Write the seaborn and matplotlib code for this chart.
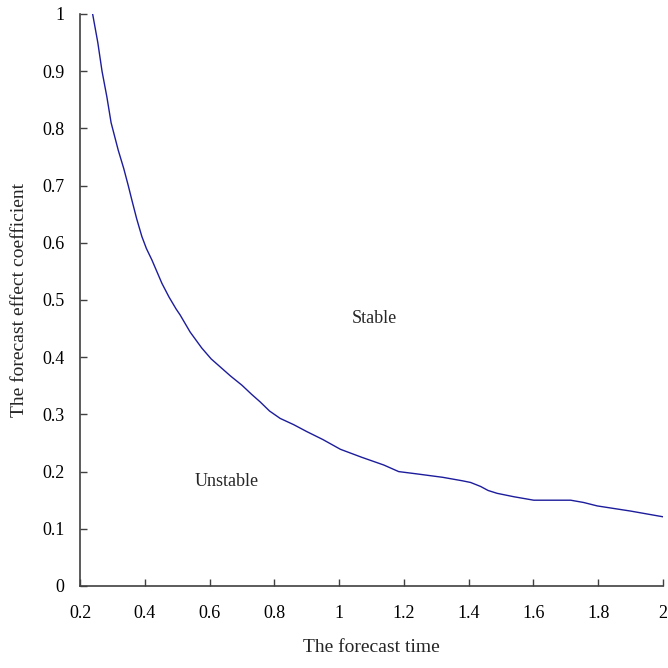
import matplotlib
matplotlib.use("Agg")
import matplotlib.pyplot as plt
import seaborn as sns
import pandas as pd

# Forecast time vs. forecast effect coefficient (stability boundary)
forecast_time = [0.239, 0.255, 0.268, 0.283, 0.296, 0.318, 0.335, 0.349, 0.36,
                 0.375, 0.391, 0.405, 0.422, 0.453, 0.475, 0.497, 0.509, 0.54,
                 0.576, 0.605, 0.633, 0.665, 0.70, 0.73, 0.756, 0.785, 0.818,
                 0.86, 0.90, 0.95, 1.004, 1.07, 1.138, 1.184, 1.24, 1.32,
                 1.38, 1.406, 1.437, 1.46, 1.488, 1.54, 1.601, 1.66, 1.715,
                 1.755, 1.797, 1.90, 2.00]
effect_coef = [1.00, 0.95, 0.90, 0.855, 0.81, 0.762, 0.73, 0.70, 0.675,
               0.642, 0.611, 0.59, 0.57, 0.529, 0.505, 0.484, 0.474, 0.444,
               0.416, 0.397, 0.383, 0.367, 0.351, 0.335, 0.322, 0.306, 0.293,
               0.282, 0.27, 0.256, 0.239, 0.225, 0.2115, 0.20, 0.196, 0.19,
               0.184, 0.181, 0.174, 0.167, 0.162, 0.156, 0.150, 0.150, 0.150,
               0.146, 0.140, 0.131, 0.121]
x_ticks = [0.2, 0.4, 0.6, 0.8, 1.0, 1.2, 1.4, 1.6, 1.8, 2.0]
x_tick_labels = ["0.2", "0.4", "0.6", "0.8", "1", "1.2", "1.4", "1.6", "1.8", "2"]
y_ticks = [0, 0.1, 0.2, 0.3, 0.4, 0.5, 0.6, 0.7, 0.8, 0.9, 1.0]
y_tick_labels = ["0", "0.1", "0.2", "0.3", "0.4", "0.5", "0.6", "0.7", "0.8", "0.9", "1"]

df = pd.DataFrame({"time": forecast_time, "coef": effect_coef})

sns.set_style("ticks")
plt.rcParams["font.family"] = ["Liberation Serif", "DejaVu Serif"]

fig = plt.figure(figsize=(6.68, 6.68), dpi=100)
ax = fig.add_axes([80 / 668, 82 / 668, 583 / 668, 572 / 668])

sns.lineplot(data=df, x="time", y="coef", ax=ax, color="#1c1c9c", linewidth=1.0)

ax.set_xlim(0.2, 2.0)
ax.set_ylim(0, 1.0)
ax.set_xticks(x_ticks)
ax.set_xticklabels(x_tick_labels)
ax.set_yticks(y_ticks)
ax.set_yticklabels(y_tick_labels)

ax.tick_params(axis="both", direction="in", length=5, width=1.0, color="#404040",
               labelsize=13, labelcolor="black")
ax.tick_params(axis="x", pad=14)
ax.tick_params(axis="y", pad=11)

for side in ("top", "right"):
    ax.spines[side].set_visible(False)
for side in ("left", "bottom"):
    ax.spines[side].set_color("#404040")
    ax.spines[side].set_linewidth(1.2)

ax.set_xlabel("The forecast time", fontsize=14, labelpad=12)
ax.set_ylabel("The forecast effect coefficient", fontsize=14, labelpad=10)

ax.text(1.109, 0.4685, "Stable", fontsize=13, ha="center", va="center")
ax.text(0.654, 0.182, "Unstable", fontsize=13, ha="center", va="center")

fig.savefig("out.png", dpi=100)
